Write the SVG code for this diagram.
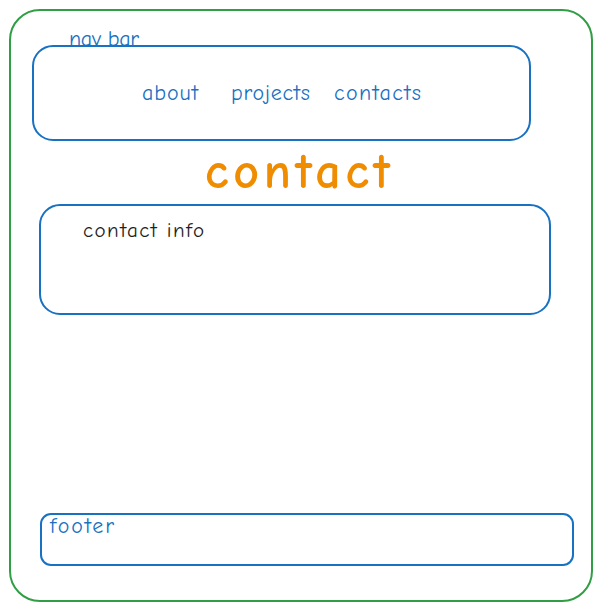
<svg xmlns="http://www.w3.org/2000/svg" width="602" height="611" viewBox="0 0 602 611">
<style>
.box{fill:none;stroke-width:2;stroke-linejoin:round}
.g{stroke:#2f9e44}
.b{stroke:#1971c2}
text{font-family:"Comic Neue","Liberation Sans",sans-serif}
.lb{fill:#1971c2;font-size:22px}
</style>
<rect width="602" height="611" fill="#ffffff"/>
<g id="page"><rect class="box g" x="10" y="10" width="582" height="591" rx="30"/></g>
<g id="navbar">
<rect class="box b" x="33" y="46" width="497" height="94" rx="20"/>
<text class="lb" x="69" y="46" font-size="19" textLength="70">nav bar</text>
<text class="lb" x="142" y="100" textLength="56">about</text>
<text class="lb" x="231" y="100" textLength="79">projects</text>
<text class="lb" x="334" y="100" textLength="87">contacts</text>
</g>
<g id="title"><text x="205" y="188" fill="#f08c00" font-size="50" font-weight="bold" textLength="185">contact</text></g>
<g id="contactinfo">
<rect class="box b" x="40" y="205" width="510" height="109" rx="20"/>
<text x="83" y="237" fill="#1e1e1e" font-size="21" textLength="121">contact info</text>
</g>
<g id="footer">
<rect class="box b" x="41" y="514" width="532" height="51" rx="10"/>
<text class="lb" x="50" y="533" font-size="21" textLength="64">footer</text>
</g>
<g id="connectors"/>
</svg>
